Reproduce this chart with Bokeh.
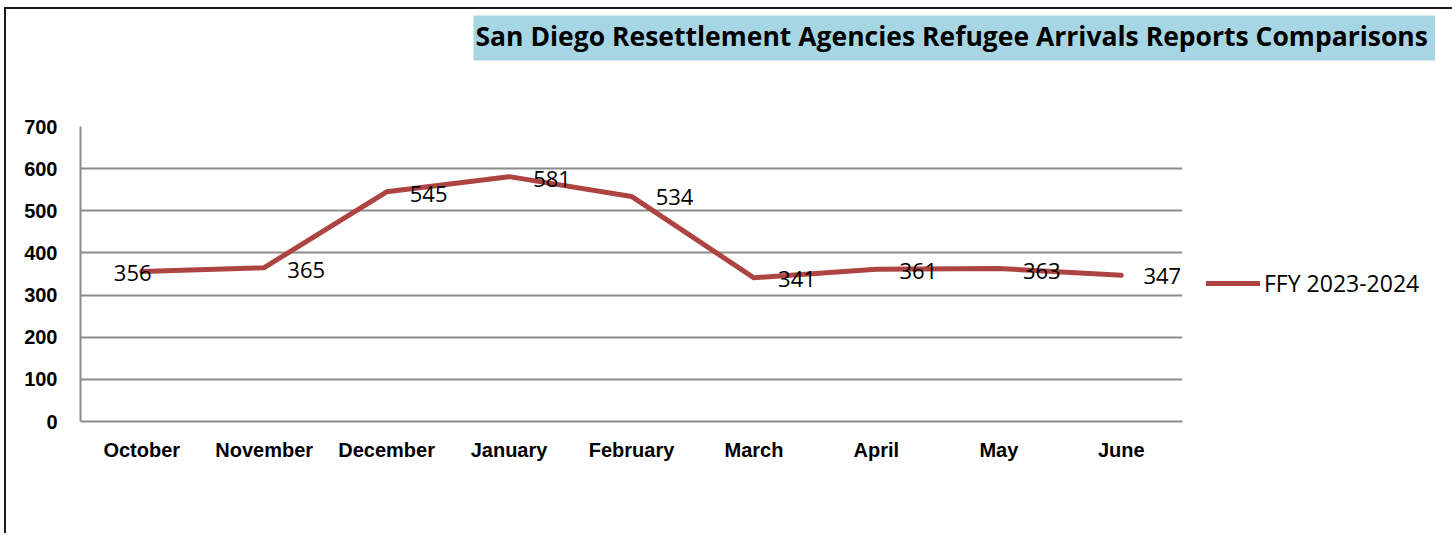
from bokeh.plotting import figure
from bokeh.models import (Range1d, FactorRange, FixedTicker, Legend, LegendItem,
                          ColumnDataSource, Title)
from bokeh.embed import file_html
from bokeh.resources import INLINE

# ---- data ----
months = ["October", "November", "December", "January", "February",
          "March", "April", "May", "June"]
arrivals = [356, 365, 545, 581, 534, 341, 361, 363, 347]
series_name = "FFY 2023-2024"
title_text = "San Diego Resettlement Agencies Refugee Arrivals Reports Comparisons"
y_ticks = [0, 100, 200, 300, 400, 500, 600, 700]

# label offsets (style)
label_dx = [-9, 42, 42, 43, 43, 43, 42, 43, 41]
label_dy = [2, 2, 2, 2, 1, 1, 2, 2, 1]

LINE_COLOR = "#AD4442"
GRID = "#8C8C8C"
TICK_FONT = "Liberation Sans"

p = figure(frame_width=1102, frame_height=295,
           x_range=FactorRange(*months, range_padding=0),
           y_range=Range1d(0, 700), output_backend="svg", toolbar_location=None,
           min_border_left=74, min_border_right=264, min_border_top=100,
           min_border_bottom=112)
p.styles = {"border-left": "2px solid #1a1a1a", "border-top": "2px solid #1a1a1a",
            "border-right": "2px solid #1a1a1a", "margin": "7px 0px 0px 4px"}
p.outline_line_color = None
p.background_fill_color = "white"
p.border_fill_color = "white"

# axes
p.yaxis.ticker = FixedTicker(ticks=y_ticks)
p.yaxis.axis_line_color = GRID
p.yaxis.axis_line_width = 2
p.yaxis.major_tick_line_color = None
p.yaxis.minor_tick_line_color = None
p.yaxis.major_tick_out = 0
p.yaxis.major_tick_in = 0
p.yaxis.major_label_standoff = 23
p.yaxis.major_label_text_font = TICK_FONT
p.yaxis.major_label_text_font_style = "bold"
p.yaxis.major_label_text_font_size = "20px"
p.yaxis.major_label_text_color = "black"

p.xaxis.axis_line_color = GRID
p.xaxis.axis_line_width = 2
p.xaxis.major_tick_line_color = None
p.xaxis.minor_tick_line_color = None
p.xaxis.major_tick_out = 0
p.xaxis.major_tick_in = 0
p.xaxis.major_label_standoff = 17
p.xaxis.major_label_text_font = TICK_FONT
p.xaxis.major_label_text_font_style = "bold"
p.xaxis.major_label_text_font_size = "20px"
p.xaxis.major_label_text_color = "black"

p.xgrid.grid_line_color = None
p.ygrid.grid_line_color = GRID
p.ygrid.grid_line_width = 2

# series
src = ColumnDataSource(dict(x=months, y=arrivals, t=[str(v) for v in arrivals],
                            dx=label_dx, dy=label_dy))
r = p.line("x", "y", source=src, line_color=LINE_COLOR, line_width=5,
           line_join="round", line_cap="round")
p.text("x", "y", text="t", source=src, x_offset="dx", y_offset="dy",
       text_align="center", text_baseline="middle", text_font_size="22px",
       text_font={"value": "Open Sans"}, text_color="black")

# legend (right side panel)
legend = Legend(items=[LegendItem(label=series_name, renderers=[r])],
                location="left", orientation="vertical",
                padding=0, margin=24, spacing=0, border_line_color=None,
                background_fill_alpha=0, glyph_width=54, glyph_height=30,
                label_height=30, label_standoff=4,
                label_text_font="Open Sans", label_text_font_size="23px",
                label_text_color="black", label_text_baseline="middle",
                title=" ", title_text_font_size="2px", title_standoff=16)
p.add_layout(legend, "right")

# spacer between frame and title box
p.add_layout(Title(text=" ", text_font_size="2px", standoff=58), "above")

# title box (outermost above panel)
p.title = Title(text=title_text, align="left", offset=393, standoff=8,
                text_font="Open Sans", text_font_style="bold", text_font_size="26.5px",
                text_color="black", background_fill_color="#A6D6E3",
                padding=(2, 7, 2, 7))

open("out.html", "w").write(file_html(p, INLINE))
